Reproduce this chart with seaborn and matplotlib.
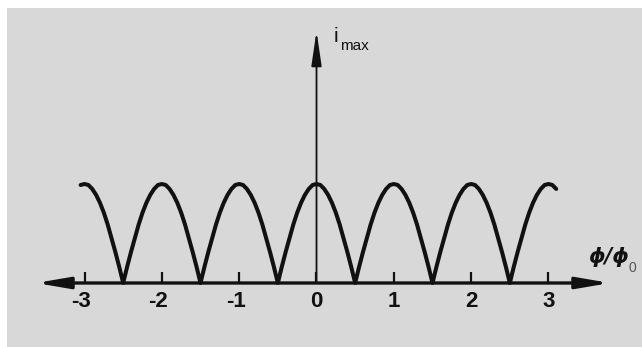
import numpy as np
import matplotlib
matplotlib.use("Agg")
import matplotlib.pyplot as plt
from matplotlib.patches import Rectangle
import seaborn as sns

sns.set_style("white")
plt.rcParams["font.family"] = ["Liberation Sans", "DejaVu Sans"]

# Normalised flux sample positions and the critical current read at each one
phi = np.round(np.arange(-3.05, 3.1001, 0.05), 2)
i_max = [
    0.99, 1.00, 0.99, 0.95, 0.89, 0.81, 0.71, 0.59, 0.45, 0.31, 0.16,
    0.00, 0.16, 0.31, 0.45, 0.59, 0.71, 0.81, 0.89, 0.95, 0.99,
    1.00, 0.99, 0.95, 0.89, 0.81, 0.71, 0.59, 0.45, 0.31, 0.16,
    0.00, 0.16, 0.31, 0.45, 0.59, 0.71, 0.81, 0.89, 0.95, 0.99,
    1.00, 0.99, 0.95, 0.89, 0.81, 0.71, 0.59, 0.45, 0.31, 0.16,
    0.00, 0.16, 0.31, 0.45, 0.59, 0.71, 0.81, 0.89, 0.95, 0.99,
    1.00, 0.99, 0.95, 0.89, 0.81, 0.71, 0.59, 0.45, 0.31, 0.16,
    0.00, 0.16, 0.31, 0.45, 0.59, 0.71, 0.81, 0.89, 0.95, 0.99,
    1.00, 0.99, 0.95, 0.89, 0.81, 0.71, 0.59, 0.45, 0.31, 0.16,
    0.00, 0.16, 0.31, 0.45, 0.59, 0.71, 0.81, 0.89, 0.95, 0.99,
    1.00, 0.99, 0.95, 0.89, 0.81, 0.71, 0.59, 0.45, 0.31, 0.16,
    0.00, 0.16, 0.31, 0.45, 0.59, 0.71, 0.81, 0.89, 0.95, 0.99,
    1.00, 0.99, 0.95,
]
tick_values = [-3, -2, -1, 0, 1, 2, 3]
tick_labels = ["-3", "-2", "-1", "0", "1", "2", "3"]

W, H = 642, 347
fig = plt.figure(figsize=(W / 100, H / 100), dpi=100, facecolor="white")
fig.patches.append(Rectangle((7 / W, 0), 1, 1 - 8 / H, transform=fig.transFigure,
                             facecolor="#d8d8d8", edgecolor="none", zorder=-10))
ax = fig.add_axes([0, 0, 1, 1])
ax.set_zorder(5)
ax.set_facecolor("none")
ax.patch.set_alpha(0)

# pixel -> data mapping: origin at (316.5, 283), 77.33 px per flux quantum, 99 px per unit current
ux, uy = 77.33, 99.0
x0, y0 = 316.5, 283.0
ax.set_xlim(-x0 / ux, (W - x0) / ux)
ax.set_ylim(-(H - y0) / uy, y0 / uy)
ax.axis("off")

def px(x, y):
    return (x - x0) / ux, (y0 - y) / uy

ink = "#111111"

# axes with arrowheads
ax.annotate("", xy=px(36, 283), xytext=px(610, 283),
            arrowprops=dict(arrowstyle="<|-|>,head_length=1.4,head_width=0.24",
                            mutation_scale=14, lw=2.4, color=ink,
                            shrinkA=0, shrinkB=0), zorder=3)
ax.annotate("", xy=px(316.5, 31), xytext=px(316.5, 283),
            arrowprops=dict(arrowstyle="-|>,head_length=1.5,head_width=0.22",
                            mutation_scale=14, lw=1.3, color=ink,
                            shrinkA=0, shrinkB=0), zorder=3)

# tick marks and labels
ax.vlines(tick_values, 0, 11 / uy, color=ink, lw=1.6, zorder=3)
for v, lab in zip(tick_values, tick_labels):
    if v < 0:
        ax.text(v + 6.5 / ux, -18.5 / uy, lab, ha="right", va="center",
                fontsize=16, fontweight="bold", color=ink)
    else:
        ax.text(v, -18.5 / uy, lab, ha="center", va="center",
                fontsize=16, fontweight="bold", color=ink)

# the curve
sns.lineplot(x=phi, y=i_max, ax=ax, color=ink, lw=2.9,
             solid_capstyle="round", solid_joinstyle="round", zorder=4)

# axis names
ax.text(*px(334, 42), "i", ha="left", va="baseline", fontsize=15, color=ink)
ax.text(*px(340, 50), "max", ha="left", va="baseline", fontsize=11, color=ink)
ax.text(*px(588, 263), "ϕ/ϕ", ha="left", va="baseline", fontsize=15,
        fontweight="bold", fontstyle="italic", family=["DejaVu Sans"], color=ink)
ax.text(*px(629, 272), "0", ha="left", va="baseline", fontsize=10, color="#555555")

fig.savefig("out.png", dpi=100, facecolor="white")
